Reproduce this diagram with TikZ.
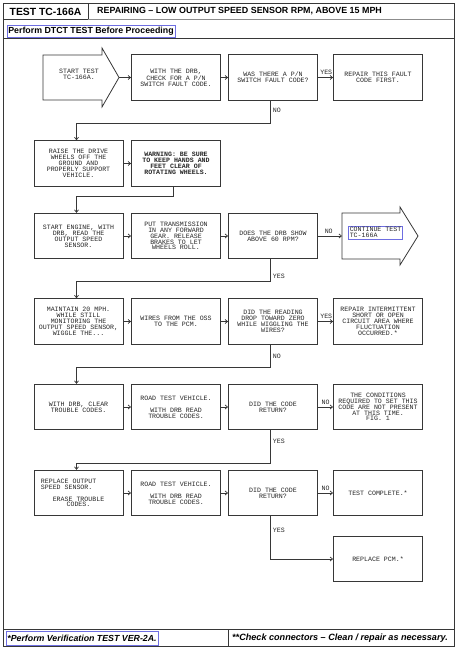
\documentclass[tikz,border=0pt]{standalone}
\usepackage{fontspec}
\setmainfont{Liberation Sans}
\newfontfamily\mono{Liberation Mono}
\usetikzlibrary{arrows.meta}
\definecolor{ln}{RGB}{55,55,55}
\definecolor{bl}{RGB}{110,110,225}
\tikzset{
 box/.style={draw=ln, line width=0.8pt, minimum width=89pt, minimum height=45.5pt, inner sep=1pt, align=center, font=\mono\fontsize{6.6}{5.9}\selectfont, text=black!85},
 conn/.style={draw=ln, line width=0.7pt, -{Straight Barb[length=2.5pt,width=4pt]}},
 lbl/.style={font=\mono\fontsize{6.6}{5.9}\selectfont, inner sep=0.5pt, text=black!85},
 frame/.style={draw=ln, line width=0.9pt},
 bluebox/.style={draw=bl, line width=0.6pt, inner sep=1.2pt},
 hdr/.style={font=\bfseries\fontsize{8.8}{10}\selectfont, text=black},
}
\begin{document}
\begin{tikzpicture}[x=1pt,y=-1pt]
\useasboundingbox (0,0) rectangle (457,650);
% page frame
\draw[frame] (3,3) rectangle (454,646);
\draw[frame] (3,19) -- (88,19) -- (88,3);
\draw[frame, draw=black!45, line width=0.6pt] (88,19.5) -- (454,19.5);
\draw[frame] (3,38) -- (454,38);
\draw[frame] (3,629) -- (454,629);
\draw[frame] (228,629) -- (228,646);
\node[font=\bfseries\fontsize{10.4}{12}\selectfont] (tid) at (45.5,11.5) {TEST TC-166A};
\node[hdr, font=\bfseries\fontsize{8.9}{10}\selectfont, anchor=west, inner sep=0pt] (ttl) at (97,11) {REPAIRING – LOW OUTPUT SPEED SENSOR RPM, ABOVE 15 MPH};
\node[hdr, bluebox, minimum width=168pt, minimum height=12pt] (pre) at (91,31) {Perform DTCT TEST Before Proceeding};
\node[hdr, bluebox, font=\bfseries\itshape\fontsize{8.8}{10}\selectfont, minimum width=152pt, minimum height=14pt] (ver) at (82,638) {*Perform Verification TEST VER-2A.};
\node[hdr, font=\bfseries\itshape\fontsize{9.1}{10}\selectfont, anchor=west, inner sep=0pt] (chk) at (232,638) {**Check connectors – Clean / repair as necessary.};

% start arrow
\draw[frame, line width=0.8pt] (43,55) -- (102,55) -- (102,48) -- (119,77.5) -- (102,107) -- (102,100) -- (43,100) -- cycle;
\node[lbl, align=center] (start) at (79,74) {START TEST\\TC-166A.};
\coordinate (starttip) at (119,77.5);

% row 1
\node[box] (b12) at (176,77.5) {WITH THE DRB,\\CHECK FOR A P/N\\SWITCH FAULT CODE.};
\node[box] (b13) at (273,77.5) {WAS THERE A P/N\\SWITCH FAULT CODE?};
\node[box] (b14) at (378,77.5) {REPAIR THIS FAULT\\CODE FIRST.};
% row 2
\node[box] (b21) at (78.5,163.5) {RAISE THE DRIVE\\WHEELS OFF THE\\GROUND AND\\PROPERLY SUPPORT\\VEHICLE.};
\node[box, font=\mono\bfseries\fontsize{6.6}{5.9}\selectfont] (b22) at (176,163.5) {WARNING: BE SURE\\TO KEEP HANDS AND\\FEET CLEAR OF\\ROTATING WHEELS.};
% row 3
\node[box] (b31) at (78.5,236) {START ENGINE, WITH\\DRB, READ THE\\OUTPUT SPEED\\SENSOR.};
\node[box] (b32) at (176,236) {PUT TRANSMISSION\\IN ANY FORWARD\\GEAR. RELEASE\\BRAKES TO LET\\WHEELS ROLL.};
\node[box] (b33) at (273,236) {DOES THE DRB SHOW\\ABOVE 60 RPM?};
\draw[frame, line width=0.8pt] (342,213) -- (400,213) -- (400,207) -- (418,236) -- (400,265) -- (400,259) -- (342,259) -- cycle;
\coordinate (contin) at (342,236);
\node[lbl, bluebox, align=left] (cont) at (375.5,232.5) {CONTINUE TEST\\TC-166A};
% row 4
\node[box] (b41) at (78.5,321.5) {MAINTAIN 20 MPH.\\WHILE STILL\\MONITORING THE\\OUTPUT SPEED SENSOR,\\WIGGLE THE...};
\node[box] (b42) at (176,321.5) {WIRES FROM THE OSS\\TO THE PCM.};
\node[box] (b43) at (273,321.5) {DID THE READING\\DROP TOWARD ZERO\\WHILE WIGGLING THE\\WIRES?};
\node[box] (b44) at (378,321.5) {REPAIR INTERMITTENT\\SHORT OR OPEN\\CIRCUIT AREA WHERE\\FLUCTUATION\\OCCURRED.*};
% row 5
\node[box] (b51) at (78.5,407) {WITH DRB, CLEAR\\TROUBLE CODES.};
\node[box] (b52) at (176,407) {ROAD TEST VEHICLE.\\[5.9pt]WITH DRB READ\\TROUBLE CODES.};
\node[box] (b53) at (273,407) {DID THE CODE\\RETURN?};
\node[box] (b54) at (378,407) {THE CONDITIONS\\REQUIRED TO SET THIS\\CODE ARE NOT PRESENT\\AT THIS TIME.\\FIG. 1};
% row 6
\node[box] (b61) at (78.5,493) {REPLACE OUTPUT\hphantom{XXXXX}\\SPEED SENSOR.\hphantom{XXXXXX}\\[5.9pt]ERASE TROUBLE\\CODES.};
\node[box] (b62) at (176,493) {ROAD TEST VEHICLE.\\[5.9pt]WITH DRB READ\\TROUBLE CODES.};
\node[box] (b63) at (273,493) {DID THE CODE\\RETURN?};
\node[box] (b64) at (378,493) {TEST COMPLETE.*};
\node[box] (b74) at (378,559) {REPLACE PCM.*};

% elbow coordinates
\coordinate (e1) at (270,123);
\coordinate (e2) at (173,196);
\coordinate (e3) at (270,281);
\coordinate (e4) at (270,367);
\coordinate (e5) at (270,463);
\coordinate (e6) at (270,559);

% connectors row 1
\draw[conn] (starttip) -- (b12.west);
\draw[conn] (b12.east) -- (b13.west);
\draw[conn] (b13.east) -- node[lbl, above=2pt, pos=0.55] {YES} (b14.west);
\draw[conn] (b13.south -| e1) -- node[lbl, right=2pt, pos=0.45] {NO} (e1) -| ([xshift=-2pt]b21.north);
% row 2
\draw[conn] (b21.east) -- (b22.west);
\draw[conn] (b22.south -| e2) -- (e2) -| ([xshift=-2pt]b31.north);
% row 3
\draw[conn] (b31.east) -- (b32.west);
\draw[conn] (b32.east) -- (b33.west);
\draw[conn] (b33.east) -- node[lbl, above=2pt, pos=0.45] {NO} (contin);
\draw[conn] (b33.south -| e3) -- node[lbl, right=2pt, pos=0.8] {YES} (e3) -| ([xshift=-2pt]b41.north);
% row 4
\draw[conn] (b41.east) -- (b42.west);
\draw[conn] (b42.east) -- (b43.west);
\draw[conn] (b43.east) -- node[lbl, above=2pt, pos=0.55] {YES} (b44.west);
\draw[conn] (b43.south -| e4) -- node[lbl, right=2pt, pos=0.5] {NO} (e4) -| ([xshift=-2pt]b51.north);
% row 5
\draw[conn] (b51.east) -- (b52.west);
\draw[conn] (b52.east) -- (b53.west);
\draw[conn] (b53.east) -- node[lbl, above=2pt, pos=0.5] {NO} (b54.west);
\draw[conn] (b53.south -| e5) -- node[lbl, right=2pt, pos=0.33] {YES} (e5) -| ([xshift=-2pt]b61.north);
% row 6
\draw[conn] (b61.east) -- (b62.west);
\draw[conn] (b62.east) -- (b63.west);
\draw[conn] (b63.east) -- node[lbl, above=2pt, pos=0.5] {NO} (b64.west);
\draw[conn] (b63.south -| e6) -- node[lbl, right=2pt, pos=0.33] {YES} (e6) -- (b74.west);
\end{tikzpicture}
\end{document}
